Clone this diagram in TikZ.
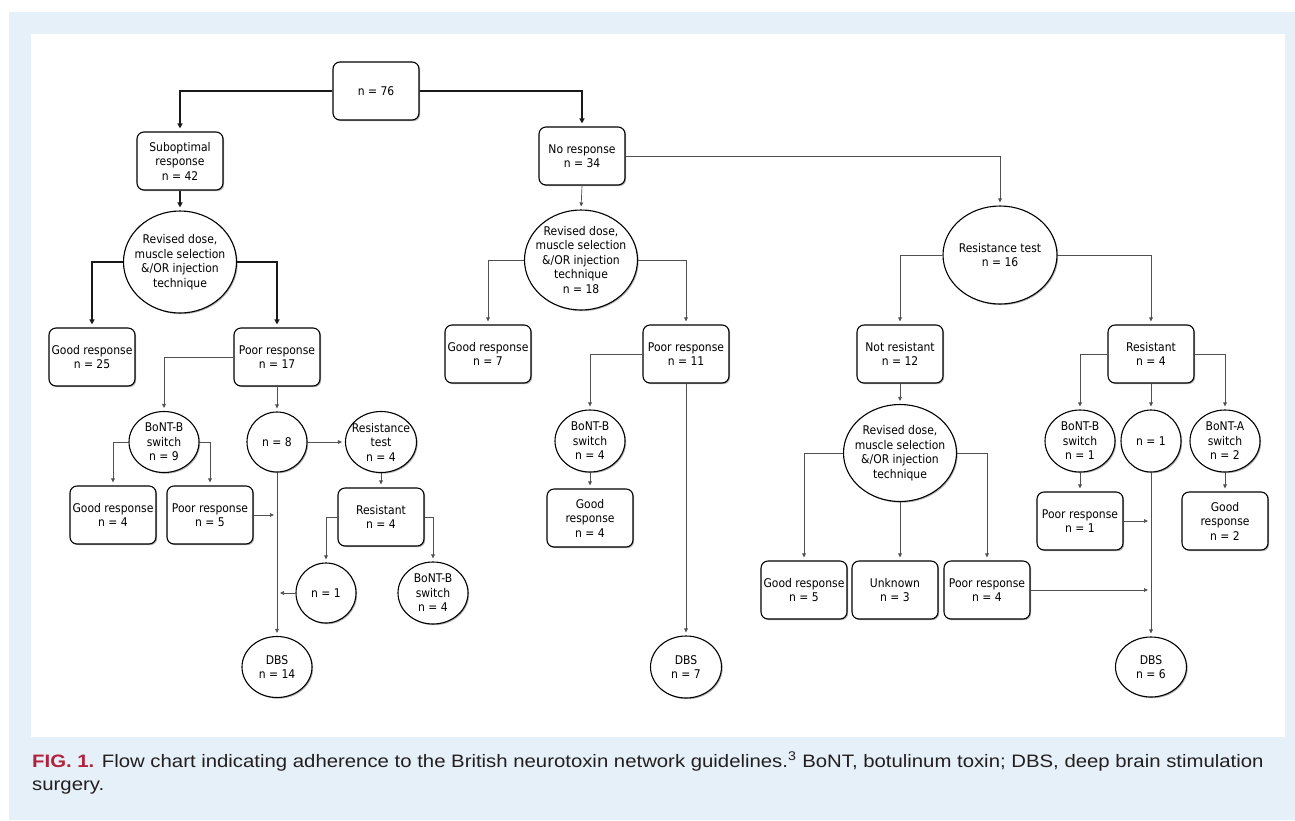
\documentclass[tikz,border=0pt]{standalone}
\usepackage{fontspec}
\setmainfont{Liberation Sans}
\newfontfamily\capfont[FakeStretch=1.13]{Liberation Sans}
\newfontfamily\diafont{DejaVu Sans Condensed}
\usetikzlibrary{arrows.meta,shapes.geometric,shadows}
\definecolor{bgblue}{RGB}{230,240,249}
\definecolor{figred}{RGB}{178,34,60}
\definecolor{captxt}{RGB}{35,31,32}
\definecolor{thinln}{RGB}{80,80,80}
\begin{document}
\begin{tikzpicture}[x=1pt,y=-1pt,
  shd/.style={drop shadow={shadow xshift=1.2pt,shadow yshift=-1.2pt,fill=black,opacity=0.3}},
  box/.style={draw=black, line width=1.1pt, rounded corners=7pt, fill=white, minimum width=86pt, minimum height=58pt, inner sep=1pt, align=center, font=\diafont\fontsize{12}{14.5}\selectfont, shd},
  ell/.style={draw=black, ellipse, line width=1.1pt, fill=white, inner sep=0pt, shd},
  lbl/.style={align=center, font=\diafont\fontsize{12}{14.5}\selectfont, inner sep=0pt},
  thk/.style={draw=black!90, line width=1.3pt, -{Triangle[length=5pt,width=5pt]}, shorten >=3pt},
  thn/.style={draw=thinln, line width=0.7pt, -{Triangle[length=4pt,width=3.6pt]}, shorten >=3pt},
  captext/.style={anchor=base west, inner sep=0pt, font=\capfont\fontsize{18}{22}\selectfont, text=captxt},
]
\useasboundingbox (0,0) rectangle (1295,820);
\fill[bgblue] (9,12) rectangle (1295,820);
\fill[white] (31,34) rectangle (1285,737);

% boxes
\node[box] (top) at (376,91) {n = 76};
\node[box] (sub) at (180,161) {Suboptimal\\response\\n = 42};
\node[box] (nores) at (582,156) {No response\\n = 34};
\node[box] (g25) at (92,357) {Good response\\n = 25};
\node[box] (p17) at (277,357) {Poor response\\n = 17};
\node[box] (g4a) at (113,515) {Good response\\n = 4};
\node[box] (p5) at (210,515) {Poor response\\n = 5};
\node[box] (resA) at (381,517) {Resistant\\n = 4};
\node[box] (g7) at (488,354) {Good response\\n = 7};
\node[box] (p11) at (686,354) {Poor response\\n = 11};
\node[box] (g4b) at (590,518) {Good\\response\\n = 4};
\node[box] (notres) at (900,354) {Not resistant\\n = 12};
\node[box] (resB) at (1151,354) {Resistant\\n = 4};
\node[box] (g5) at (804,590) {Good response\\n = 5};
\node[box] (unk) at (895,590) {Unknown\\n = 3};
\node[box] (p4) at (987,590) {Poor response\\n = 4};
\node[box] (p1) at (1080,521) {Poor response\\n = 1};
\node[box] (g2) at (1225,521) {Good\\response\\n = 2};

% ellipses
\node[ell, minimum width=113pt, minimum height=102pt, label={[lbl]center:{Revised dose,\\muscle selection\\\&/OR injection\\technique}}] (c1) at (180,262) {};
\node[ell, minimum width=113pt, minimum height=100pt, label={[lbl]center:{Revised dose,\\muscle selection\\\&/OR injection\\technique\\n = 18}}] (c2) at (581,260) {};
\node[ell, minimum width=114pt, minimum height=98pt, label={[lbl]center:{Resistance test\\n = 16}}] (rt16) at (1000,255) {};
\node[ell, minimum width=70pt, minimum height=61pt, label={[lbl]center:{BoNT-B\\switch\\n = 9}}] (bb9) at (164,442) {};
\node[ell, minimum width=60pt, minimum height=60pt, label={[lbl]center:{n = 8}}] (n8) at (277,442) {};
\node[ell, minimum width=71pt, minimum height=61pt, label={[lbl]center:{Resistance\\test\\n = 4}}] (rt4) at (381,442) {};
\node[ell, minimum width=60pt, minimum height=60pt, label={[lbl]center:{n = 1}}] (n1a) at (326,593) {};
\node[ell, minimum width=70pt, minimum height=62pt, label={[lbl]center:{BoNT-B\\switch\\n = 4}}] (bb4a) at (433,593) {};
\node[ell, minimum width=70pt, minimum height=61pt, label={[lbl]center:{DBS\\n = 14}}] (dbs14) at (277,667) {};
\node[ell, minimum width=70pt, minimum height=62pt, label={[lbl]center:{BoNT-B\\switch\\n = 4}}] (bb4b) at (590,441) {};
\node[ell, minimum width=71pt, minimum height=62pt, label={[lbl]center:{DBS\\n = 7}}] (dbs7) at (686,667) {};
\node[ell, minimum width=113pt, minimum height=97pt, label={[lbl]center:{Revised dose,\\muscle selection\\\&/OR injection\\technique}}] (c3) at (900,453) {};
\node[ell, minimum width=70pt, minimum height=62pt, label={[lbl]center:{BoNT-B\\switch\\n = 1}}] (bb1) at (1080,441) {};
\node[ell, minimum width=60pt, minimum height=62pt, label={[lbl]center:{n = 1}}] (n1b) at (1151,441) {};
\node[ell, minimum width=70pt, minimum height=62pt, label={[lbl]center:{BoNT-A\\switch\\n = 2}}] (ba2) at (1225,441) {};
\node[ell, minimum width=71pt, minimum height=60pt, label={[lbl]center:{DBS\\n = 6}}] (dbs6) at (1151,667) {};

% thick connectors
\draw[thk] (top.west) -| (sub.north);
\draw[thk] (top.east) -| (nores.north);
\draw[thk] (sub.south) -- (c1.north);
\draw[thk] (c1.west) -| (g25.north);
\draw[thk] (c1.east) -| (p17.north);

% thin connectors
\draw[thn] (nores.south) -- (c2.north);
\draw[thn] (nores.east) -| (rt16.north);
\draw[thn] (c2.west) -| (g7.north);
\draw[thn] (c2.east) -| (p11.north);
\draw[thn] (p11.south) -- (dbs7.north);
\draw[thn] (p11.west) -| (bb4b.north);
\draw[thn] (bb4b.south) -- (g4b.north);
\draw[thn] (p17.west) -| (bb9.north);
\draw[thn] (p17.south) -- (n8.north);
\draw[thn] (bb9.west) -| (g4a.north);
\draw[thn] (bb9.east) -| (p5.north);
\draw[thn] (n8.east) -- (rt4.west);
\draw[thn] (n8.south) -- (dbs14.north);
\draw[thn] (p5.east) -- (p5.east -| n8.south);
\draw[thn] (rt4.south) -- (resA.north);
\draw[thn] (resA.west) -| (n1a.north);
\draw[thn] (resA.east) -| (bb4a.north);
\draw[thn] (n1a.west) -- (n1a.west -| n8.south);
\draw[thn] (rt16.west) -| (notres.north);
\draw[thn] (rt16.east) -| (resB.north);
\draw[thn] (notres.south) -- (c3.north);
\draw[thn] (c3.west) -| (g5.north);
\draw[thn] (c3.south) -- (c3.south |- unk.north);
\draw[thn] (c3.east) -| (p4.north);
\draw[thn] (resB.west) -| (bb1.north);
\draw[thn] (resB.south) -- (n1b.north);
\draw[thn] (resB.east) -| (ba2.north);
\draw[thn] (bb1.south) -- (p1.north);
\draw[thn] (ba2.south) -- (g2.north);
\draw[thn] (n1b.south) -- (dbs6.north);
\draw[thn] (p1.east) -- (p1.east -| n1b.south);
\draw[thn] (p4.east) -- (p4.east -| n1b.south);

% caption
\node[captext] (cap1) at (32,767) {\textcolor{figred}{\textbf{FIG. 1.}} Flow chart indicating adherence to the British neurotoxin network guidelines.\textsuperscript{3} BoNT, botulinum toxin; DBS, deep brain stimulation};
\node[captext] (cap2) at (32,790) {surgery.};
\end{tikzpicture}
\end{document}
